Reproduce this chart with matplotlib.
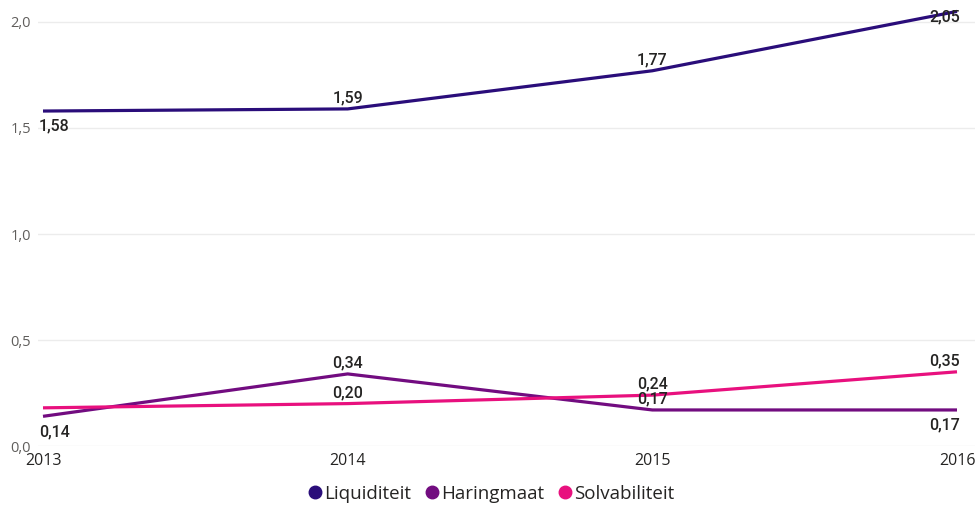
# ratio chart: liquiditeit, haringmaat, solvabiliteit per year

import matplotlib
matplotlib.use("Agg")
import matplotlib.pyplot as plt
from matplotlib.lines import Line2D

# data
years = [2013, 2014, 2015, 2016]
liquiditeit = [1.58, 1.59, 1.77, 2.05]
haringmaat = [0.14, 0.34, 0.17, 0.17]
solvabiliteit = [0.18, 0.20, 0.24, 0.35]
y_ticks = [0.0, 0.5, 1.0, 1.5, 2.0]

series = [
    ("Liquiditeit", liquiditeit, "#2a0d7a"),
    ("Haringmaat", haringmaat, "#720c80"),
    ("Solvabiliteit", solvabiliteit, "#e8107e"),
]

# label placement per point: vertical offset in points (None = no label)
label_offsets = {
    "Liquiditeit": [-11, 8, 8, -4],
    "Haringmaat": [-11, 8, 8, -11],
    "Solvabiliteit": [None, 8, 8, 8],
}


def fmt(v):
    return f"{v:.2f}".replace(".", ",")


fig = plt.figure(figsize=(9.79, 5.07), dpi=100)
ax = fig.add_axes([38 / 979, 61 / 507, 937 / 979, 446 / 507])

for name, vals, color in series:
    ax.plot(years, vals, color=color, lw=2.3, clip_on=False, zorder=3,
            solid_capstyle="butt")
    for i, (x, v) in enumerate(zip(years, vals)):
        dy = label_offsets[name][i]
        if dy is None:
            continue
        ha = "center"
        dx = 0
        if i == 0:
            ha, dx = "left", -3
        elif i == len(years) - 1:
            ha, dx = "right", 2
        ax.annotate(fmt(v), (x, v), xytext=(dx, dy), textcoords="offset points",
                    ha=ha, va="center", fontsize=11.5, color="#252423",
                    family="Roboto", weight="medium", zorder=4)

scale = 914 / 3
ax.set_xlim(2013 - 5 / scale, 2016 + 18 / scale)
ax.set_ylim(0, 446 / 212)

ax.set_yticks(y_ticks)
ax.set_yticklabels([f"{t:.1f}".replace(".", ",") for t in y_ticks])
ax.set_xticks(years)
ax.set_xticklabels([str(y) for y in years])

ax.grid(axis="y", color="#ececec", lw=1)
ax.set_axisbelow(True)
for s in ax.spines.values():
    s.set_visible(False)
ax.tick_params(axis="both", length=0)
ax.tick_params(axis="y", labelsize=10.5, labelcolor="#605e5c", pad=5)
ax.tick_params(axis="x", labelsize=11.5, labelcolor="#252423", pad=5)
for lbl in ax.get_xticklabels() + ax.get_yticklabels():
    lbl.set_family("Open Sans")

handles = [Line2D([], [], marker="o", ls="", color=c, markersize=9) for _, _, c in series]
fig.legend(handles, [n for n, _, _ in series], loc="center", bbox_to_anchor=(491 / 979, 1 - 494 / 507),
           ncol=3, frameon=False, handletextpad=0.1, columnspacing=0.7,
           handlelength=0.8, prop={"family": "Open Sans", "size": 13.5}, labelcolor="#252423")

fig.savefig("out.png", dpi=100)
